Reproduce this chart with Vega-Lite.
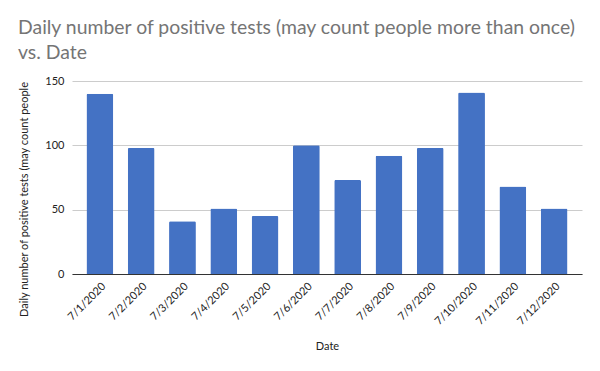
{
  "$schema": "https://vega.github.io/schema/vega-lite/v6.json",
  "autosize": "none",
  "width": 510,
  "height": 193,
  "padding": {"left": 72, "top": 81, "right": 18, "bottom": 97},
  "background": "white",
  "title": {
    "text": ["Daily number of positive tests (may count people more than once)", "vs. Date"],
    "anchor": "start",
    "frame": "group",
    "dx": -54,
    "font": "Lato",
    "fontSize": 19.4,
    "fontWeight": "normal",
    "color": "#757575",
    "lineHeight": 25,
    "offset": 12
  },
  "data": {
    "values": [
      {"Date": "7/1/2020", "Positives": 140},
      {"Date": "7/2/2020", "Positives": 98},
      {"Date": "7/3/2020", "Positives": 41},
      {"Date": "7/4/2020", "Positives": 51},
      {"Date": "7/5/2020", "Positives": 45},
      {"Date": "7/6/2020", "Positives": 100},
      {"Date": "7/7/2020", "Positives": 73},
      {"Date": "7/8/2020", "Positives": 92},
      {"Date": "7/9/2020", "Positives": 98},
      {"Date": "7/10/2020", "Positives": 141},
      {"Date": "7/11/2020", "Positives": 68},
      {"Date": "7/12/2020", "Positives": 51}
    ]
  },
  "mark": {"type": "bar", "color": "#4472C4", "cornerRadiusTopLeft": 1.5, "cornerRadiusTopRight": 1.5},
  "encoding": {
    "x": {
      "field": "Date",
      "type": "nominal",
      "sort": null,
      "scale": {"paddingInner": 0.35, "paddingOuter": 0.35},
      "axis": {
        "title": "Date",
        "titleFont": "Lato",
        "titleFontSize": 11,
        "titleFontWeight": "normal",
        "titleColor": "#222222",
        "titlePadding": 14,
        "labelFont": "Lato",
        "labelFontSize": 11,
        "labelColor": "#222222",
        "labelAngle": -45,
        "labelPadding": 6,
        "ticks": false,
        "domainColor": "#333333",
        "domainWidth": 1
      }
    },
    "y": {
      "field": "Positives",
      "type": "quantitative",
      "scale": {"domain": [0, 150]},
      "axis": {
        "values": [0, 50, 100, 150],
        "title": "Daily number of positive tests (may count people",
        "titleFont": "Lato",
        "titleFontSize": 11,
        "titleFontWeight": "normal",
        "titleColor": "#222222",
        "titleX": -48,
        "titleY": 118,
        "titleAngle": -90,
        "titleAlign": "center",
        "titleBaseline": "middle",
        "labelFont": "Lato",
        "labelFontSize": 11,
        "labelColor": "#222222",
        "labelPadding": 8,
        "ticks": false,
        "domain": false,
        "gridColor": "#cccccc",
        "gridWidth": 1
      }
    }
  },
  "config": {"view": {"stroke": null}}
}
